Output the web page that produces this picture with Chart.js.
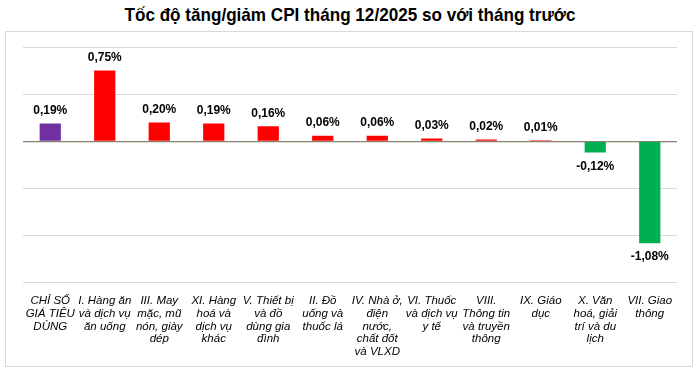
<!DOCTYPE html>
<html>
<head>
<meta charset="utf-8">
<script src="https://cdn.jsdelivr.net/npm/chart.js@4.4.0/dist/chart.umd.min.js"></script>
<style>
  html, body { margin: 0; padding: 0; background: #fff; }
  #title {
    position: absolute; left: 0; top: 4px; width: 700px; text-align: center;
    font-family: 'Liberation Sans Narrow', 'Liberation Sans', Arial, sans-serif;
    font-weight: bold; font-size: 19px; color: #000;
    transform: scaleX(0.9); transform-origin: 350px 0;
  }
  #box {
    position: absolute; left: 5px; top: 31px; width: 686px; height: 334px;
    border: 1px solid #d9d9d9;
  }
</style>
</head>
<body>
<div id="title">Tốc độ tăng/giảm CPI tháng 12/2025 so với tháng trước</div>
<div id="box"><canvas id="cpiChart" width="686" height="334"></canvas></div>
<script>
// nhóm hàng (nhãn trục x, đã ngắt dòng như ảnh gốc)
const categories = [
    ["CHỈ SỐ", "GIÁ TIÊU", "DÙNG"],
    ["I. Hàng ăn", "và dịch vụ", "ăn uống"],
    ["III. May", "mặc, mũ", "nón, giày", "dép"],
    ["XI. Hàng", "hoá và", "dịch vụ", "khác"],
    ["V. Thiết bị", "và đồ", "dùng gia", "đình"],
    ["II. Đồ", "uống và", "thuốc lá"],
    ["IV. Nhà ở,", "điện", "nước,", "chất đốt", "và VLXD"],
    ["VI. Thuốc", "và dịch vụ", "y tế"],
    ["VIII.", "Thông tin", "và truyền", "thông"],
    ["IX. Giáo", "dục"],
    ["X. Văn", "hoá, giải", "trí và du", "lịch"],
    ["VII. Giao", "thông"]
];
// % thay đổi so với tháng trước
const cpiChange = [0.19, 0.75, 0.20, 0.19, 0.16, 0.06, 0.06, 0.03, 0.02, 0.01, -0.12, -1.08];

const barColors = cpiChange.map((v, i) => i === 0 ? '#7030A0' : (v >= 0 ? '#FF0000' : '#00B050'));

// --- plugin nhãn giá trị ---
const valueLabels = {
    id: 'valueLabels',
    afterDatasetsDraw(chart) {
        const ctx = chart.ctx;
        const meta = chart.getDatasetMeta(0);
        ctx.save();
        ctx.font = "bold 12px 'Liberation Sans', Arial, sans-serif";
        ctx.fillStyle = '#000';
        ctx.textAlign = 'center';
        meta.data.forEach((bar, i) => {
            const v = cpiChange[i];
            const txt = v.toFixed(2).replace('.', ',') + '%';
            if (v >= 0) {
                ctx.textBaseline = 'bottom';
                ctx.fillText(txt, bar.x, bar.y - 7);
            } else {
                ctx.textBaseline = 'top';
                ctx.fillText(txt, bar.x, bar.y + 8);
            }
        });
        ctx.restore();
    }
};

Chart.defaults.font.family = "'Liberation Sans', Arial, sans-serif";
Chart.defaults.color = '#000';

new Chart(document.getElementById('cpiChart'), {
    type: 'bar',
    data: {
        labels: categories,
        datasets: [{
            data: cpiChange,
            backgroundColor: barColors,
            barPercentage: 0.5,
            categoryPercentage: 0.78
        }]
    },
    options: {
        responsive: false,
        animation: false,
        layout: { padding: { left: 17, right: 15, top: 15, bottom: 4 } },
        plugins: { legend: { display: false }, tooltip: { enabled: false } },
        scales: {
            x: {
                grid: { display: false },
                border: { display: false },
                ticks: {
                    maxRotation: 0, minRotation: 0, autoSkip: false, padding: 4,
                    font: { size: 11.5, style: 'italic', lineHeight: 1.1 }
                }
            },
            y: {
                min: -1.5, max: 1.0,
                ticks: { display: false, stepSize: 0.5 },
                border: { display: false },
                grid: {
                    color: c => c.tick.value === 0 ? '#8a8070' : '#d9d9d9',
                    lineWidth: c => c.tick.value === 0 ? 1.3 : 1,
                    drawTicks: false
                }
            }
        }
    },
    plugins: [valueLabels]
});
</script>
</body>
</html>
